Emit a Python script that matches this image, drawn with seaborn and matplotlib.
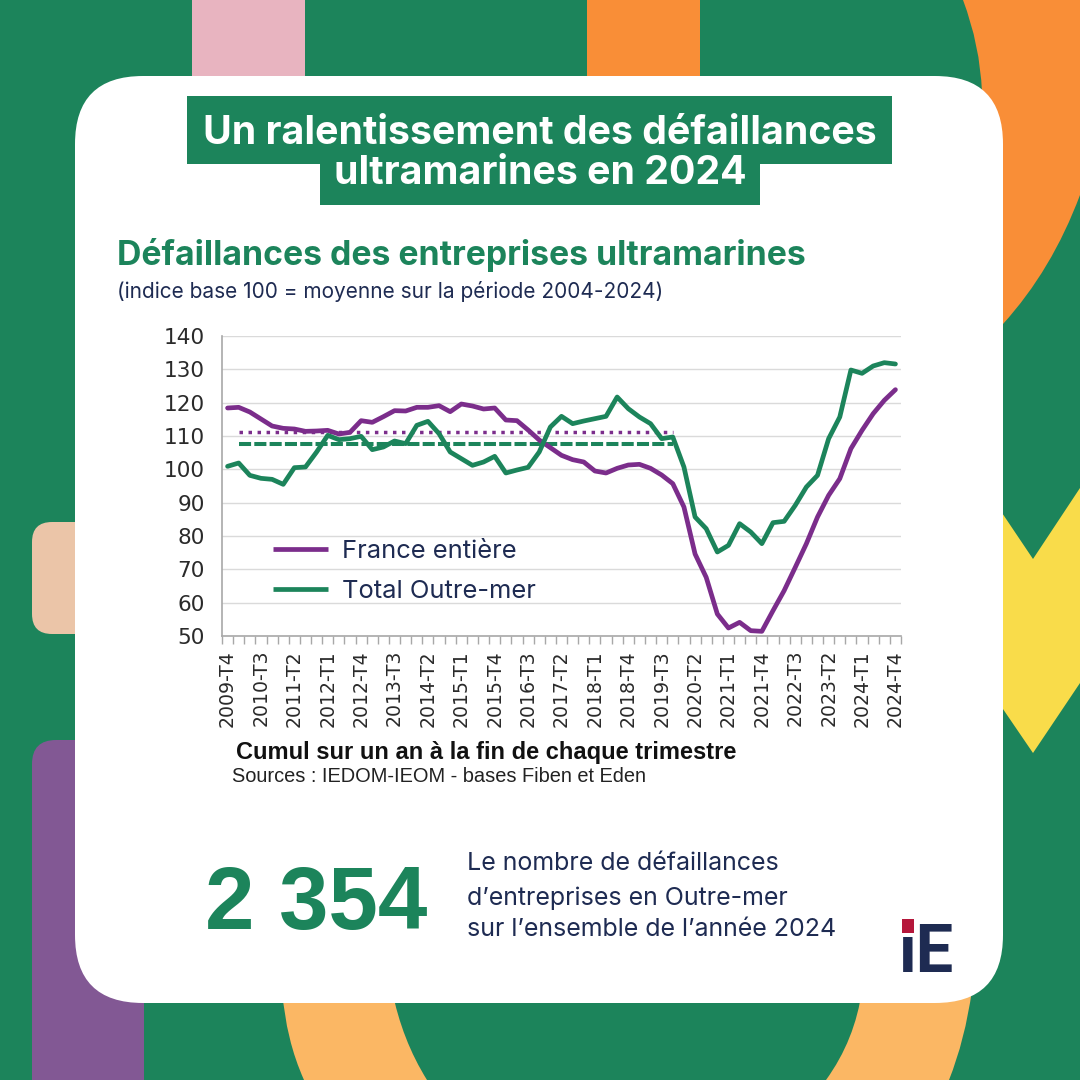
import numpy as np
import pandas as pd
import seaborn as sns
import matplotlib.pyplot as plt
from matplotlib.patches import FancyBboxPatch, PathPatch, Polygon, Rectangle
from matplotlib.path import Path
from matplotlib.ticker import FixedLocator

# donnees
quarters = ['2009-T4'] + [f'{y}-T{q}' for y in range(2010, 2025) for q in (1, 2, 3, 4)]
france = [118.4, 118.6, 117.2, 115.1, 113.0, 112.3, 112.1, 111.4, 111.5, 111.7,
          110.6, 111.1, 114.6, 114.1, 115.8, 117.6, 117.5, 118.6, 118.6, 119.1,
          117.3, 119.6, 119.0, 118.1, 118.4, 114.8, 114.6, 111.8, 108.8, 106.5,
          104.2, 102.9, 102.2, 99.5, 98.9, 100.3, 101.3, 101.5, 100.3, 98.3,
          95.7, 88.7, 74.6, 67.6, 56.6, 52.4, 54.1, 51.6, 51.4, 57.6,
          63.6, 70.6, 77.7, 85.7, 92.2, 97.2, 106.2, 111.7, 116.7, 120.7, 123.9]
outremer = [100.9, 101.9, 98.2, 97.3, 97.0, 95.5, 100.5, 100.7, 105.2, 110.2,
            108.9, 109.2, 109.9, 105.9, 106.7, 108.5, 107.7, 113.2, 114.4, 110.7,
            105.2, 103.2, 101.2, 102.2, 103.9, 98.9, 99.8, 100.6, 105.2, 112.7,
            115.9, 113.7, 114.5, 115.2, 115.9, 121.7, 118.2, 115.7, 113.7, 109.2,
            109.7, 100.7, 85.7, 82.2, 75.2, 77.2, 83.7, 81.2, 77.7, 84.0,
            84.4, 89.2, 94.7, 98.2, 109.2, 115.7, 129.8, 128.8, 131.0, 132.0, 131.6]
mean_quarters = quarters[1:41]
mean_france = [111.2] * len(mean_quarters)
mean_outremer = [107.6] * len(mean_quarters)
y_ticks = [50, 60, 70, 80, 90, 100, 110, 120, 130, 140]

GREEN = '#1c845b'
PURPLE = '#7b2d8b'
NAVY = '#1e2b52'
FONT = 'Inter'

sns.set_theme(style='white')
plt.rcParams['font.family'] = [FONT, 'DejaVu Sans']

fig = plt.figure(figsize=(10.8, 10.8), dpi=100, facecolor=GREEN)

# fond en coordonnees pixels
bg = fig.add_axes([0, 0, 1, 1])
bg.set_xlim(0, 1080)
bg.set_ylim(1080, 0)
bg.axis('off')

bg.add_patch(Rectangle((192, 0), 113, 90, color='#e8b4c0', lw=0))
bg.add_patch(Rectangle((587, 0), 113, 90, color='#f98e37', lw=0))
bg.add_patch(PathPatch(Path(
    [(963, 0), (980, 45), (982, 92), (982, 330), (1003, 324), (1052, 270), (1080, 195), (1080, 0), (963, 0)],
    [Path.MOVETO, Path.CURVE3, Path.CURVE3, Path.LINETO, Path.LINETO, Path.CURVE3, Path.CURVE3, Path.LINETO, Path.CLOSEPOLY]),
    color='#f98e37', lw=0))
bg.add_patch(Polygon([(990, 495), (1033, 559), (1080, 488), (1080, 683), (1033, 753), (990, 690)],
                     color='#f9dc4a', lw=0))
bg.add_patch(FancyBboxPatch((32, 522), 100, 112, boxstyle='round,pad=0,rounding_size=20',
                            color='#ebc5a8', lw=0))
bg.add_patch(FancyBboxPatch((32, 740), 112, 400, boxstyle='round,pad=0,rounding_size=24',
                            color='#825894', lw=0))
for pts in ([(282, 990), (286, 1040), (304, 1080), (427, 1080), (402, 1040), (392, 990)],
            [(862, 990), (855, 1040), (826, 1080), (949, 1080), (965, 1040), (972, 990)]):
    bg.add_patch(PathPatch(Path(
        [pts[0], pts[1], pts[2], pts[3], pts[4], pts[5], pts[0]],
        [Path.MOVETO, Path.CURVE3, Path.CURVE3, Path.LINETO, Path.CURVE3, Path.CURVE3, Path.CLOSEPOLY]),
        color='#fbb764', lw=0))
bg.add_patch(FancyBboxPatch((75, 76), 928, 927, boxstyle='round,pad=0,rounding_size=68',
                            color='white', lw=0))

# titre
bg.add_patch(Rectangle((187, 96), 705, 68, color=GREEN, lw=0))
bg.add_patch(Rectangle((320, 164), 440, 41, color=GREEN, lw=0))
bg.text(540, 133, 'Un ralentissement des défaillances', color='white', fontsize=28.3,
        fontweight='bold', ha='center', va='center')
bg.text(540, 174, 'ultramarines en 2024', color='white', fontsize=28.3,
        fontweight='bold', ha='center', va='center')

bg.text(117, 255, 'Défaillances des entreprises ultramarines', color=GREEN, fontsize=24.3,
        fontweight='bold', va='center')
bg.text(117, 291, '(indice base 100 = moyenne sur la période 2004-2024)', color=NAVY,
        fontsize=15, va='center')

# graphique
ax = fig.add_axes([222 / 1080, 1 - 636 / 1080, 679 / 1080, 300 / 1080], facecolor='none')
df = pd.DataFrame({
    'trimestre': quarters * 2,
    'indice': france + outremer,
    'serie': ['France entière'] * len(france) + ['Total Outre-mer'] * len(outremer),
})
sns.lineplot(data=df, x='trimestre', y='indice', hue='serie', sort=False, errorbar=None,
             palette={'France entière': PURPLE, 'Total Outre-mer': GREEN}, lw=3.4, ax=ax,
             solid_joinstyle='round', zorder=3)
# les moyennes sont placees sur le meme axe de categories
mean_pos = [quarters.index(q) for q in mean_quarters]
sns.lineplot(x=mean_pos, y=mean_france, color=PURPLE, lw=2.5, ax=ax, legend=False,
             linestyle=(0, (1, 1.6)), zorder=2)
sns.lineplot(x=mean_pos, y=mean_outremer, color=GREEN, lw=2.9, ax=ax, legend=False,
             linestyle=(0, (3, 0.8)), zorder=2)

ax.set_xlim(-0.5, len(quarters) - 0.5)
ax.set_ylim(50, 140)
ax.set_xlabel('')
ax.set_ylabel('')
ax.set_yticks(y_ticks)
ax.set_xticks(range(0, len(quarters), 3))
ax.set_xticklabels(quarters[::3], rotation=90, fontsize=13.6, color='#2a2a2a', family='DejaVu Sans')
ax.xaxis.set_minor_locator(FixedLocator(np.arange(len(quarters) + 1) - 0.5))
ax.tick_params(axis='x', which='major', length=0, pad=10)
ax.tick_params(axis='x', which='minor', length=6, width=1, color='#a8a8a8', bottom=True)
ax.tick_params(axis='y', length=9, width=1, color='#a8a8a8', labelsize=15.6, labelcolor='#2a2a2a', pad=3.5)
for lab in ax.get_yticklabels():
    lab.set_family('DejaVu Sans')
ax.yaxis.grid(True, color='#dadada', lw=1)
ax.set_axisbelow(True)
sns.despine(ax=ax, top=True, right=True)
ax.spines['left'].set_color('#a8a8a8')
ax.spines['bottom'].set_color('#a8a8a8')
ax.spines['left'].set_linewidth(1.2)
ax.spines['bottom'].set_linewidth(1.2)

leg = ax.legend(loc='lower left', bbox_to_anchor=(0.075, 0.11), frameon=False, title=None,
                handlelength=2.15, handletextpad=0.55, labelspacing=0.68, borderpad=0, borderaxespad=0,
                prop={'family': FONT, 'size': 18.4}, labelcolor=NAVY)
for h in leg.get_lines():
    h.set_solid_capstyle('butt')
    h.set_linewidth(3.4)

# notes sous le graphique
bg.text(236, 753, 'Cumul sur un an à la fin de chaque trimestre', color='#111111', fontsize=17,
        fontweight='bold', va='center', family='Liberation Sans')
bg.text(232, 776, 'Sources : IEDOM-IEOM - bases Fiben et Eden', color='#222222', fontsize=14.4,
        va='center', family='Liberation Sans')

# chiffre cle
bg.text(205, 906, '2 354', color=GREEN, fontsize=64, fontweight='bold', va='center',
        family='Liberation Sans')
for y, line in zip((864, 898, 930), ('Le nombre de défaillances',
                                     'd’entreprises en Outre-mer',
                                     'sur l’ensemble de l’année 2024')):
    bg.text(467, y, line, color=NAVY, fontsize=18, va='center')

# logo : le point du i est recouvert par le carre rouge
bg.text(899, 972, 'iE', color=NAVY, fontsize=48, fontweight='bold', va='baseline', family='Roboto')
bg.add_patch(Rectangle((902, 919), 12, 14, color='#b5173b', lw=0, zorder=5))

fig.savefig('out.png', dpi=100, facecolor=GREEN)
